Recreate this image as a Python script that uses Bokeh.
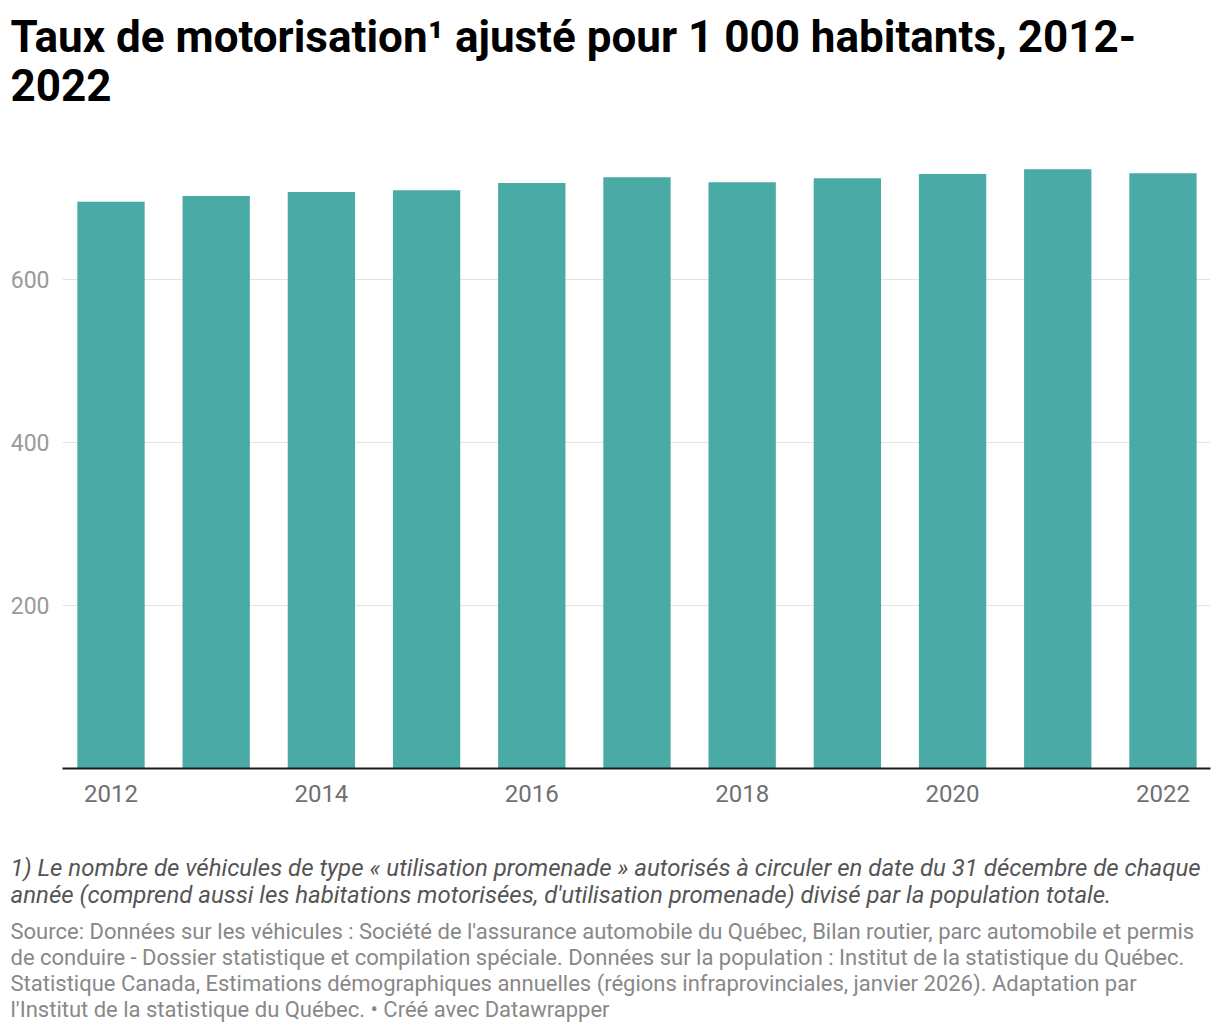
from bokeh.plotting import figure
from bokeh.models import Range1d, FixedTicker, Title
from bokeh.embed import file_html
from bokeh.resources import INLINE

# ---- data ----
years = [2012, 2013, 2014, 2015, 2016, 2017, 2018, 2019, 2020, 2021, 2022]
values = [696, 703, 708, 710, 719, 726, 720, 725, 730, 736, 731]
x_ticks = [2012, 2014, 2016, 2018, 2020, 2022]
y_ticks = [200, 400, 600]

title_lines = [
    "Taux de motorisation\u00b9 ajust\u00e9 pour 1 000 habitants, 2012-",
    "2022",
]
note_lines = [
    "1) Le nombre de v\u00e9hicules de type \u00ab utilisation promenade \u00bb autoris\u00e9s \u00e0 circuler en date du 31 d\u00e9cembre de chaque",
    "ann\u00e9e (comprend aussi les habitations motoris\u00e9es, d'utilisation promenade) divis\u00e9 par la population totale.",
]
source_lines = [
    "Source: Donn\u00e9es sur les v\u00e9hicules : Soci\u00e9t\u00e9 de l'assurance automobile du Qu\u00e9bec, Bilan routier, parc automobile et permis",
    "de conduire - Dossier statistique et compilation sp\u00e9ciale. Donn\u00e9es sur la population : Institut de la statistique du Qu\u00e9bec.",
    "Statistique Canada, Estimations d\u00e9mographiques annuelles (r\u00e9gions infraprovinciales, janvier 2026). Adaptation par",
    "l'Institut de la statistique du Qu\u00e9bec. \u2022 Cr\u00e9\u00e9 avec Datawrapper",
]

FONT = "Roboto"
BAR_COLOR = "#49aaa6"
W, H = 1220, 1034

p = figure(
    width=W, height=H, output_backend="svg", toolbar_location=None,
    x_range=Range1d(2011.539, 2022.452), y_range=Range1d(0, 770),
    min_border_left=62, min_border_right=10, min_border_top=140, min_border_bottom=266,
)
p.outline_line_color = None
p.background_fill_color = "white"
p.border_fill_color = "white"

p.vbar(x=years, top=values, width=0.64, bottom=0, color=BAR_COLOR, line_color=None)

p.xaxis.ticker = FixedTicker(ticks=x_ticks)
p.xaxis.axis_line_color = "#1a1a1a"
p.xaxis.axis_line_width = 2
p.xaxis.major_tick_line_color = None
p.xaxis.minor_tick_line_color = None
p.xaxis.major_label_standoff = 10
p.xaxis.major_label_text_font = FONT
p.xaxis.major_label_text_font_size = "24px"
p.xaxis.major_label_text_color = "#707070"

p.yaxis.ticker = FixedTicker(ticks=y_ticks)
p.yaxis.axis_line_color = None
p.yaxis.major_tick_line_color = None
p.yaxis.minor_tick_line_color = None
p.yaxis.major_label_standoff = 7
p.yaxis.major_label_text_font = FONT
p.yaxis.major_label_text_font_size = "23px"
p.yaxis.major_label_text_color = "#9a9a9a"

p.xgrid.grid_line_color = None
p.ygrid.ticker = FixedTicker(ticks=y_ticks)
p.ygrid.grid_line_color = "#e3e3e3"
p.ygrid.grid_line_width = 1

# ---- titles (side panels, not clipped) ----
p.title = Title(text="\n".join(title_lines), align="left", offset=-52,
                text_font=FONT, text_font_size="44px", text_font_style="bold",
                text_color="#000000", text_line_height=0.96, vertical_align="top", standoff=20)
top_spacer = Title(text=" ", align="left", text_font=FONT, text_font_size="1px", standoff=14)
p.add_layout(top_spacer, "above")

spacer = Title(text=" ", align="left", text_font=FONT, text_font_size="1px", standoff=43)
notes = Title(text="\n".join(note_lines), align="left", offset=-52,
              text_font=FONT, text_font_size="24px", text_font_style="italic",
              text_color="#555555", text_line_height=0.98, standoff=4)
source = Title(text="\n".join(source_lines), align="left", offset=-52,
               text_font=FONT, text_font_size="22px", text_font_style="normal",
               text_color="#888888", text_line_height=1.03, standoff=12)
p.add_layout(spacer, "below")
p.add_layout(notes, "below")
p.add_layout(source, "below")

open("out.html", "w").write(file_html(p, INLINE))
